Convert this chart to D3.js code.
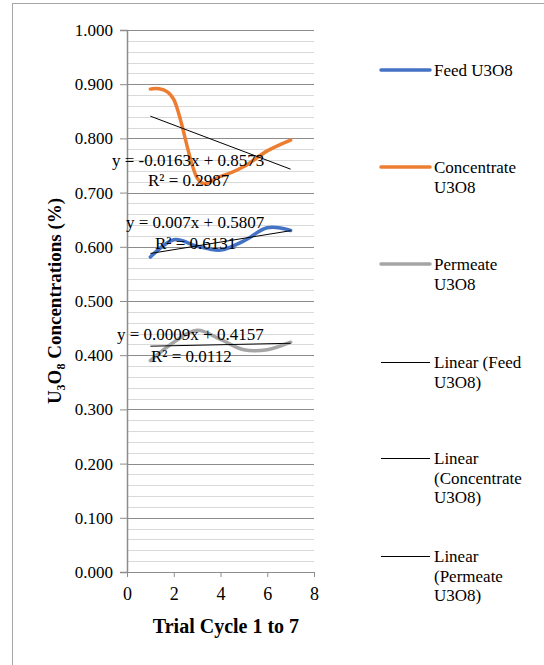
<!DOCTYPE html>
<html><head><meta charset="utf-8">
<script src="https://cdn.jsdelivr.net/npm/d3@7"></script>
<style>body{margin:0;background:#fff}svg{display:block}text{font-family:"Liberation Serif","Times New Roman","DejaVu Serif",serif;fill:#000}</style>
</head><body>
<script>
const cycles = [1, 2, 3, 4, 5, 6, 7];
const feed = [0.581, 0.613, 0.601, 0.594, 0.611, 0.635, 0.630];
const concentrate = [0.891, 0.872, 0.727, 0.730, 0.748, 0.777, 0.797];
const permeate = [0.390, 0.424, 0.446, 0.429, 0.410, 0.410, 0.424];
const seriesNames = ["Feed U3O8", "Concentrate U3O8", "Permeate U3O8"];
const trendSlopes = [0.007, -0.0163, 0.0009];
const trendIntercepts = [0.5807, 0.8573, 0.4157];
const trendLabels = ["y = 0.007x + 0.5807", "y = -0.0163x + 0.8573", "y = 0.0009x + 0.4157"];
const r2Labels = ["R² = 0.6131", "R² = 0.2987", "R² = 0.0112"];
const yTicks = [0, 0.1, 0.2, 0.3, 0.4, 0.5, 0.6, 0.7, 0.8, 0.9, 1.0];
const xTicks = [0, 2, 4, 6, 8];
const legendItems = [["Feed U3O8"], ["Concentrate", "U3O8"], ["Permeate", "U3O8"],
  ["Linear (Feed", "U3O8)"], ["Linear", "(Concentrate", "U3O8)"], ["Linear", "(Permeate", "U3O8)"]];

const FONT = '"Liberation Serif","Times New Roman","DejaVu Serif",serif';
const colors = ["#4472C4", "#ED7D31", "#A5A5A5"];
const W = 544, H = 665;
const svg = d3.select("body").append("svg").attr("width", W).attr("height", H);
svg.append("rect").attr("x", 12.5).attr("y", 3.5).attr("width", 560).attr("height", 700)
  .attr("fill", "#fff").attr("stroke", "#a6a6a6").attr("stroke-width", 1);

const x = d3.scaleLinear().domain([0, 8]).range([127, 314]);
const y = d3.scaleLinear().domain([0, 1]).range([572, 30]);

// minor gridlines
const minor = d3.range(0, 1.0001, 0.02);
svg.append("g").selectAll("line").data(minor).join("line")
  .attr("x1", x(0)).attr("x2", x(8)).attr("y1", d => Math.round(y(d)) + 0.5).attr("y2", d => Math.round(y(d)) + 0.5)
  .attr("stroke", "#d9d9d9").attr("stroke-width", 1);
// major gridlines
svg.append("g").selectAll("line").data(yTicks).join("line")
  .attr("x1", x(0)).attr("x2", x(8)).attr("y1", d => Math.round(y(d)) + 0.5).attr("y2", d => Math.round(y(d)) + 0.5)
  .attr("stroke", "#8c8c8c").attr("stroke-width", 1);

// y axis
const yAxis = d3.axisLeft(y).tickValues(yTicks).tickFormat(d3.format(".3f")).tickSize(7).tickPadding(7);
const gy = svg.append("g").attr("transform", `translate(${x(0)},0)`).call(yAxis)
  .attr("font-family", FONT).attr("font-size", 17);
gy.select(".domain").attr("stroke", "#8c8c8c").attr("stroke-width", 1.5);
gy.selectAll(".tick line").attr("stroke", "#8c8c8c");
gy.selectAll("text").attr("fill", "#000").style("font-family", FONT);

// x axis
const xAxis = d3.axisBottom(x).tickValues(xTicks).tickSize(5).tickPadding(10);
const gx = svg.append("g").attr("transform", `translate(0,${y(0)})`).call(xAxis)
  .attr("font-family", FONT).attr("font-size", 18);
gx.select(".domain").attr("stroke", "#8c8c8c");
gx.selectAll(".tick line").attr("stroke", "#8c8c8c");
gx.selectAll("text").attr("fill", "#000").style("font-family", FONT);

// series
const data = [feed, concentrate, permeate];
const line = d3.line().x((d, i) => x(cycles[i])).y(d => y(d)).curve(d3.curveCardinal.tension(0));
data.forEach((s, k) => {
  svg.append("path").datum(s).attr("d", line).attr("fill", "none")
    .attr("stroke", colors[k]).attr("stroke-width", 3.5).attr("stroke-linecap", "round");
});
// trendlines
trendSlopes.forEach((m, k) => {
  const x0 = cycles[0], x1 = cycles[cycles.length - 1];
  svg.append("line").attr("x1", x(x0)).attr("x2", x(x1))
    .attr("y1", y(m * x0 + trendIntercepts[k])).attr("y2", y(m * x1 + trendIntercepts[k]))
    .attr("stroke", "#000").attr("stroke-width", 1);
});
// trend labels
const eqPos = [[126, 228, 155, 249], [112, 166, 148, 186], [117, 340, 151, 362]];
trendLabels.forEach((t, k) => {
  svg.append("text").attr("x", eqPos[k][0]).attr("y", eqPos[k][1]).style("font-size", "17px").text(t);
  svg.append("text").attr("x", eqPos[k][2]).attr("y", eqPos[k][3]).style("font-size", "17px").text(r2Labels[k]);
});

// axis titles
svg.append("text").attr("x", 226).attr("y", 633).attr("text-anchor", "middle")
  .style("font-size", "20px").style("font-weight", "bold").text("Trial Cycle 1 to 7");
const yt = svg.append("text").attr("transform", "translate(61,301) rotate(-90)").attr("text-anchor", "middle")
  .style("font-size", "19px").style("font-weight", "bold");
yt.append("tspan").text("U");
yt.append("tspan").attr("dy", 4).style("font-size", "12px").text("3");
yt.append("tspan").attr("dy", -4).text("O");
yt.append("tspan").attr("dy", 4).style("font-size", "12px").text("8");
yt.append("tspan").attr("dy", -4).text(" Concentrations (%)");

// legend
const legY = [70, 167, 264, 362, 458, 556];
legendItems.forEach((lines, i) => {
  const col = i < 3 ? colors[i] : "#000";
  const ly = i < 3 ? legY[i] : legY[i] + 0.5;
  svg.append("line").attr("x1", 381).attr("x2", 430).attr("y1", ly).attr("y2", ly)
    .attr("stroke", col).attr("stroke-width", i < 3 ? 3.5 : 1).attr("stroke-linecap", i < 3 ? "round" : "butt");
  lines.forEach((l, j) => {
    svg.append("text").attr("x", 434).attr("y", legY[i] + 6 + j * 19.5).style("font-size", "17px").text(l);
  });
});
</script>
</body></html>
